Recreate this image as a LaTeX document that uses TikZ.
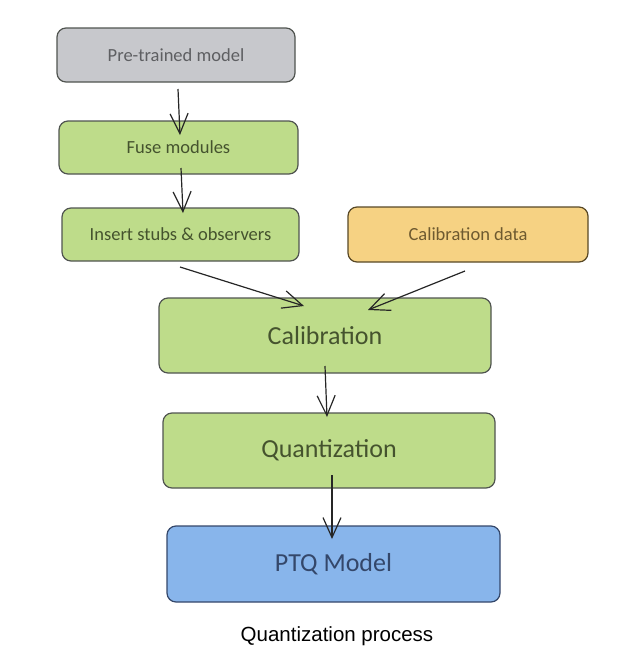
\documentclass[tikz,border=0pt]{standalone}
\usepackage{fontspec}
\setmainfont{Carlito}
\newfontfamily\capfont{Liberation Sans}
\usetikzlibrary{arrows.meta}
\definecolor{grayfill}{HTML}{C7C8CC}
\definecolor{greenfill}{HTML}{BEDC8A}
\definecolor{orangefill}{HTML}{F6D283}
\definecolor{bluefill}{HTML}{88B5EB}
\definecolor{edgecol}{HTML}{505450}
\definecolor{graytext}{HTML}{5E5F62}
\definecolor{greentext}{HTML}{45532E}
\definecolor{orangetext}{HTML}{6E5A30}
\definecolor{bluetext}{HTML}{34476A}
\tikzset{
  x=1pt, y=-1pt,
  boxstyle/.style={draw=edgecol, line width=1.2pt, rounded corners=9pt, inner sep=0pt},
  smallbox/.style={boxstyle, minimum height=54pt, font=\fontsize{18.5}{22}\selectfont},
  bigbox/.style={boxstyle, minimum height=75pt, minimum width=332pt, font=\fontsize{26}{31}\selectfont},
  flow/.style={-{Straight Barb[length=20pt,width=18pt,line width=1.2pt]}, line width=1.2pt, black!85},
}
\begin{document}
\begin{tikzpicture}
\useasboundingbox (0,0) rectangle (619,665);
% boxes
\node[smallbox, minimum width=238pt, fill=grayfill, text=graytext] (pre) at (176,55) {Pre-trained model};
\node[smallbox, minimum width=239pt, minimum height=53pt, fill=greenfill, text=greentext] (fuse) at (178.5,147.5) {Fuse modules};
\node[smallbox, minimum width=237pt, minimum height=53pt, fill=greenfill, text=greentext] (ins) at (180.5,234.5) {Insert stubs \& observers};
\node[smallbox, minimum width=240pt, minimum height=55pt, fill=orangefill, draw=orangetext!80!black, text=orangetext] (cdata) at (468,234.5) {Calibration data};
\node[bigbox, fill=greenfill, text=greentext] (cal) at (325,335.5) {Calibration};
\node[bigbox, fill=greenfill, text=greentext] (quant) at (329,450.5) {Quantization};
\node[bigbox, minimum width=333pt, minimum height=76pt, fill=bluefill, draw=bluetext, text=bluetext] (ptq) at (333.5,564) {PTQ Model};
\node[font=\capfont\fontsize{20.5}{24}\selectfont, text=black] (cap) at (337,636) {Quantization process};
% arrow anchor points
\coordinate (a1s) at (178,89);  \coordinate (a1e) at (180,135);
\coordinate (a2s) at (181,168); \coordinate (a2e) at (183,213);
\coordinate (a3s) at (180,267); \coordinate (a3e) at (304,306);
\coordinate (a4s) at (465,271); \coordinate (a4e) at (368,310);
\coordinate (a5s) at (325,366); \coordinate (a5e) at (327,417);
\coordinate (a6s) at (332,475); \coordinate (a6e) at (332,539);
\draw[flow] (a1s) -- (a1e);
\draw[flow] (a2s) -- (a2e);
\draw[flow] (a3s) -- (a3e);
\draw[flow] (a4s) -- (a4e);
\draw[flow] (a5s) -- (a5e);
\draw[flow] (a6s) -- (a6e);
\end{tikzpicture}
\end{document}
